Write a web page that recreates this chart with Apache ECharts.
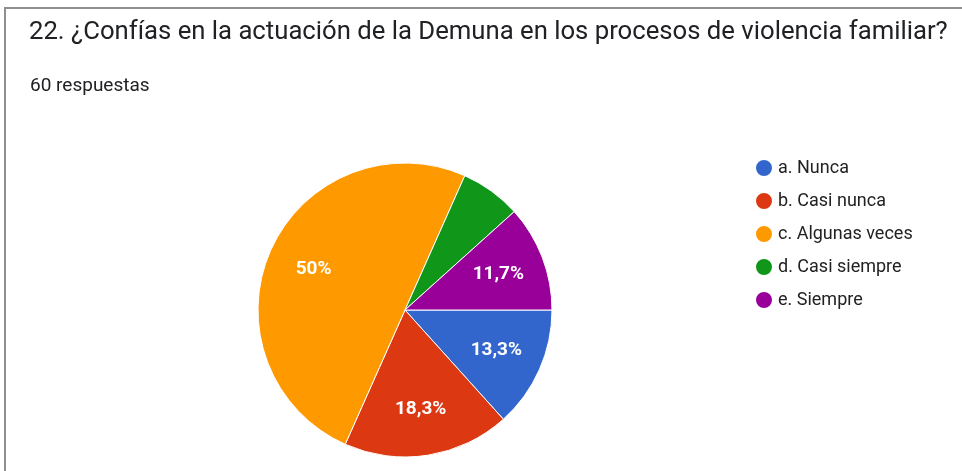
<!DOCTYPE html>
<html>
<head>
<meta charset="utf-8">
<script src="https://cdn.jsdelivr.net/npm/echarts@6/dist/echarts.min.js"></script>
<style>
html,body{margin:0;padding:0;background:#fff;}
#c{width:962px;height:471px;}
</style>
</head>
<body>
<div id="c"></div>
<script>
const titleText = '22. ¿Confías en la actuación de la Demuna en los procesos de violencia familiar?';
const subtitleText = '60 respuestas';
const categories = ['a. Nunca', 'b. Casi nunca', 'c. Algunas veces', 'd. Casi siempre', 'e. Siempre'];
const counts = [8, 11, 30, 4, 7];
const colors = ['#3366cc', '#dc3912', '#ff9900', '#109618', '#990099'];

const total = counts.reduce((a, b) => a + b, 0);
const data = categories.map((n, i) => ({ name: n, value: counts[i] }));

function fmt(p) {
  const pct = p.value / total * 100;
  if (pct < 7) return '';
  let s = pct.toFixed(1);
  if (s.endsWith('.0')) s = s.slice(0, -2);
  return s.replace('.', ',') + '%';
}

const chart = echarts.init(document.getElementById('c'), null, { renderer: 'canvas' });
chart.setOption({
  backgroundColor: '#fff',
  color: colors,
  animation: false,
  title: [
    { text: titleText, left: 24, top: 15, textStyle: { fontFamily: 'Roboto', fontSize: 25.7, fontWeight: 'normal', color: '#202124' } },
    { text: subtitleText, left: 25, top: 72, textStyle: { fontFamily: 'Roboto', fontSize: 19, fontWeight: 'normal', color: '#202124' } }
  ],
  graphic: [
    { type: 'rect', shape: { x: 5, y: 8, width: 1000, height: 600 }, style: { fill: 'none', stroke: '#8f8f8f', lineWidth: 2 }, silent: true, z: -1 }
  ],
  legend: {
    orient: 'vertical',
    left: 749,
    top: 153,
    icon: 'circle',
    itemWidth: 18,
    itemHeight: 18,
    itemGap: 13,
    textStyle: { fontFamily: 'Roboto', fontSize: 18, color: '#222' },
    data: categories
  },
  series: [
    {
      type: 'pie',
      center: [405, 310],
      radius: 147,
      startAngle: 0,
      clockwise: true,
      data: data,
      label: { show: false },
      labelLine: { show: false },
      itemStyle: { borderColor: '#fff', borderWidth: 1 },
      z: 2
    },
    {
      type: 'pie',
      center: [405, 310],
      radius: [86, 108],
      startAngle: 0,
      clockwise: true,
      silent: true,
      legendHoverLink: false,
      data: data,
      itemStyle: { color: 'rgba(0,0,0,0)' },
      label: { show: true, position: 'inside', formatter: fmt, color: '#fff', fontFamily: 'Roboto', fontSize: 19, fontWeight: 'bold' },
      labelLine: { show: false },
      z: 3
    }
  ]
});
</script>
</body>
</html>
